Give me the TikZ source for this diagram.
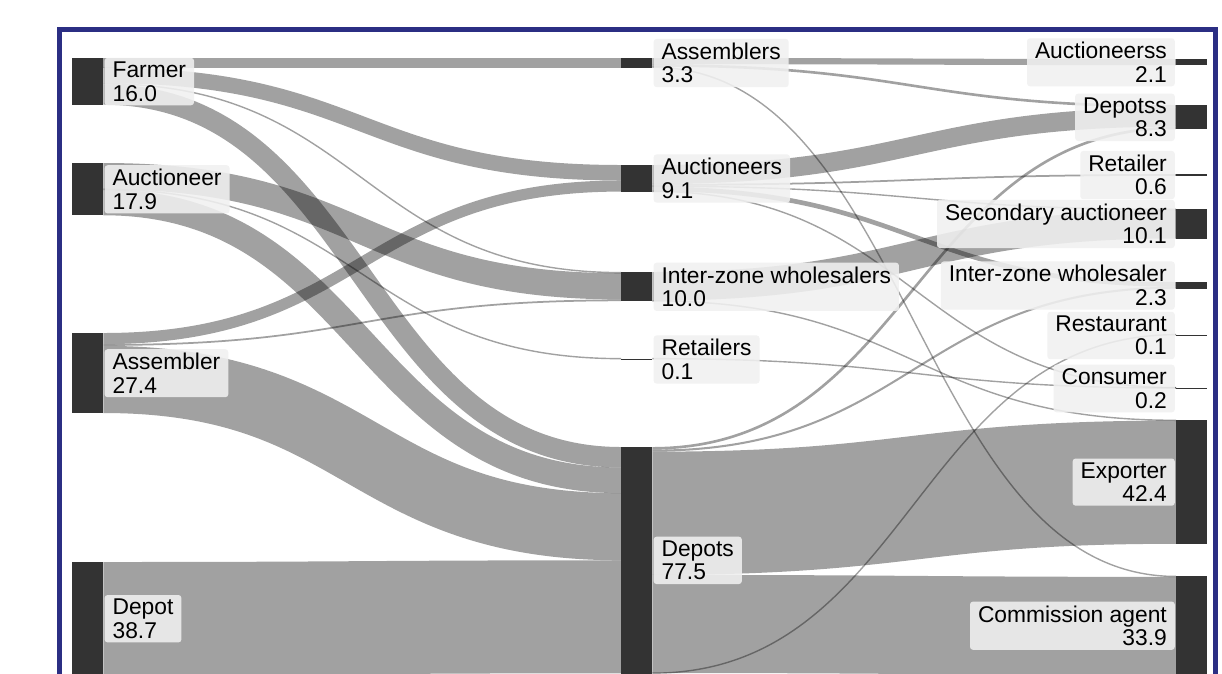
\documentclass[tikz,border=0pt]{standalone}
\usepackage{fontspec}
\setmainfont{Liberation Sans}
\usetikzlibrary{backgrounds}
\definecolor{framecol}{RGB}{43,46,131}
% px per unit of flow, half gap for the curves
\newcommand{\unitpx}{2.92}
\newcommand{\linkgap}{260}
% \flow{from}{offset at from}{to}{offset at to}{value}
\newcommand{\flow}[5]{%
  \pgfmathsetmacro\flw{max(#5*\unitpx,1.4)}%
  \pgfmathsetmacro\fsa{-(#2+#5/2)*\unitpx}%
  \pgfmathsetmacro\fsb{-(#4+#5/2)*\unitpx}%
  \draw[flowline, line width=\flw pt] ([yshift=\fsa pt]#1.north east)
    .. controls +(\linkgap,0) and +(-\linkgap,0) .. ([yshift=\fsb pt]#3.north west);}
% \barnode{name}{x}{top}{value}
\newcommand{\barnode}[4]{%
  \pgfmathsetmacro\bh{max(#4*\unitpx,1.6)}%
  \node[sankeybar, minimum height=\bh pt] (#1) at (#2,#3) {};}
\begin{document}
\begin{tikzpicture}[x=1pt, y=-1pt,
    sankeybar/.style={fill=black!80, inner sep=0pt, minimum width=31pt, anchor=north west},
    flowline/.style={draw=black, draw opacity=0.37, line cap=butt},
    labelbox/.style={fill=black!6, fill opacity=0.88, text opacity=1, rounded corners=3pt,
      inner xsep=8pt, inner ysep=4pt, font=\fontsize{22.8}{23.5}\selectfont}]
  \useasboundingbox (0,0) rectangle (1222,673);

  % producers
  \barnode{farmer}{72}{58}{16.0}
  \barnode{auctioneer}{72}{163}{17.9}
  \barnode{assembler}{72}{333}{27.4}
  \barnode{depot}{72}{562}{38.7}
  % first buyers
  \barnode{assemblers}{621}{58}{3.3}
  \barnode{auctioneers}{621}{165}{9.1}
  \barnode{izsellers}{621}{272}{10.0}
  \barnode{retailers}{621}{358.5}{0.1}
  \barnode{depots}{621}{447}{77.5}
  % final buyers
  \barnode{auctioneerss}{1176}{59}{2.1}
  \barnode{depotss}{1176}{105}{8.3}
  \barnode{retailer}{1176}{174}{0.6}
  \barnode{secondary}{1176}{209}{10.1}
  \barnode{izseller}{1176}{282}{2.3}
  \barnode{restaurant}{1176}{334.5}{0.1}
  \barnode{consumer}{1176}{387.5}{0.2}
  \barnode{exporter}{1176}{420}{42.4}
  \barnode{commission}{1176}{576}{33.9}

  \begin{scope}[on background layer]
    \flow{farmer}{0}{assemblers}{0}{3.3}
    \flow{farmer}{3.3}{auctioneers}{0}{5.3}
    \flow{farmer}{8.6}{izsellers}{0}{0.4}
    \flow{farmer}{9.0}{depots}{0}{7.0}
    \flow{auctioneer}{0}{izsellers}{0.4}{9.0}
    \flow{auctioneer}{9.0}{retailers}{0}{0.1}
    \flow{auctioneer}{9.1}{depots}{7.0}{8.8}
    \flow{assembler}{0}{auctioneers}{5.3}{3.8}
    \flow{assembler}{3.8}{izsellers}{9.4}{0.6}
    \flow{assembler}{4.4}{depots}{15.8}{23.0}
    \flow{depot}{0}{depots}{38.8}{38.7}

    \flow{assemblers}{0}{auctioneerss}{0}{2.1}
    \flow{assemblers}{2.1}{depotss}{0}{0.9}
    \flow{assemblers}{3.0}{commission}{0}{0.3}
    \flow{auctioneers}{0}{depotss}{0.9}{6.5}
    \flow{auctioneers}{6.5}{retailer}{0}{0.6}
    \flow{auctioneers}{7.1}{secondary}{0}{0.3}
    \flow{auctioneers}{7.4}{izseller}{0}{1.6}
    \flow{auctioneers}{9.0}{consumer}{0}{0.1}
    \flow{izsellers}{0}{secondary}{0.3}{9.8}
    \flow{izsellers}{9.8}{exporter}{0}{0.2}
    \flow{retailers}{0}{consumer}{0.1}{0.1}
    \flow{depots}{0}{depotss}{7.4}{0.9}
    \flow{depots}{0.9}{izseller}{1.6}{0.7}
    \flow{depots}{1.6}{exporter}{0.2}{42.2}
    \flow{depots}{43.8}{commission}{0.3}{33.6}
    \flow{depots}{77.4}{restaurant}{0}{0.1}
  \end{scope}

  % labels
  \node[labelbox, anchor=west, align=left] (farmertxt) at ([xshift=1pt]farmer.east) {Farmer\\16.0};
  \node[labelbox, anchor=west, align=left] (auctioneertxt) at ([xshift=1pt]auctioneer.east) {Auctioneer\\17.9};
  \node[labelbox, anchor=west, align=left] (assemblertxt) at ([xshift=1pt]assembler.east) {Assembler\\27.4};
  \node[labelbox, anchor=west, align=left] (depottxt) at ([xshift=1pt]depot.east) {Depot\\38.7};

  \node[labelbox, anchor=west, align=left] (assemblerstxt) at ([xshift=1pt]assemblers.east) {Assemblers\\3.3};
  \node[labelbox, anchor=west, align=left] (auctioneerstxt) at ([xshift=1pt]auctioneers.east) {Auctioneers\\9.1};
  \node[labelbox, anchor=west, align=left] (izsellerstxt) at ([xshift=1pt]izsellers.east) {Inter-zone wholesalers\\10.0};
  \node[labelbox, anchor=west, align=left] (retailerstxt) at ([xshift=1pt]retailers.east) {Retailers\\0.1};
  \node[labelbox, anchor=west, align=left] (depotstxt) at ([xshift=1pt]depots.east) {Depots\\77.5};

  \node[labelbox, anchor=east, align=right] (auctioneersstxt) at ([xshift=-1pt]auctioneerss.west) {Auctioneerss\\2.1};
  \node[labelbox, anchor=east, align=right] (depotsstxt) at ([xshift=-1pt]depotss.west) {Depotss\\8.3};
  \node[labelbox, anchor=east, align=right] (retailertxt) at ([xshift=-1pt]retailer.west) {Retailer\\0.6};
  \node[labelbox, anchor=east, align=right] (secondarytxt) at ([xshift=-1pt]secondary.west) {Secondary auctioneer\\10.1};
  \node[labelbox, anchor=east, align=right] (izsellertxt) at ([xshift=-1pt]izseller.west) {Inter-zone wholesaler\\2.3};
  \node[labelbox, anchor=east, align=right] (restauranttxt) at ([xshift=-1pt]restaurant.west) {Restaurant\\0.1};
  \node[labelbox, anchor=east, align=right] (consumertxt) at ([xshift=-1pt]consumer.west) {Consumer\\0.2};
  \node[labelbox, anchor=east, align=right] (exportertxt) at ([xshift=-1pt]exporter.west) {Exporter\\42.4};
  \node[labelbox, anchor=east, align=right] (commissiontxt) at ([xshift=-1pt]commission.west) {Commission agent\\33.9};

  % frame
  \draw[framecol, line width=5pt] (59.2,700) -- (59.2,29.8) -- (1215.5,29.8) -- (1215.5,700);
\end{tikzpicture}
\end{document}
